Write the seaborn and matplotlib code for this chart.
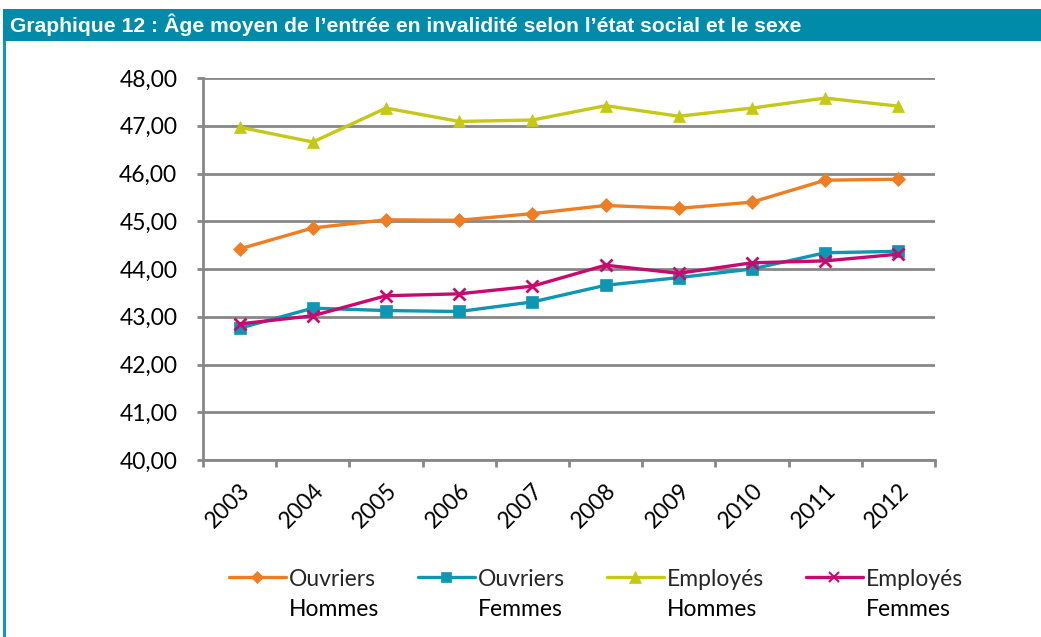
import matplotlib
matplotlib.use("Agg")
import matplotlib.pyplot as plt
import seaborn as sns
import pandas as pd
from matplotlib.patches import Rectangle
from matplotlib.lines import Line2D
from matplotlib.ticker import FuncFormatter, FixedLocator

years = ["2003", "2004", "2005", "2006", "2007", "2008", "2009", "2010", "2011", "2012"]
ouvriers_hommes = [44.42, 44.86, 45.03, 45.02, 45.16, 45.33, 45.27, 45.40, 45.86, 45.88]
ouvriers_femmes = [42.76, 43.18, 43.13, 43.11, 43.31, 43.66, 43.82, 44.00, 44.34, 44.37]
employes_hommes = [46.97, 46.66, 47.37, 47.09, 47.12, 47.42, 47.20, 47.37, 47.58, 47.41]
employes_femmes = [42.85, 43.02, 43.44, 43.48, 43.64, 44.08, 43.91, 44.13, 44.17, 44.31]
series_labels = ["Ouvriers\nHommes", "Ouvriers\nFemmes", "Employés\nHommes", "Employés\nFemmes"]
title = "Graphique 12 : Âge moyen de l\u2019entrée en invalidité selon l\u2019état social et le sexe"

sns.set_theme(style="white")
plt.rcParams['font.family'] = ['Lato', 'DejaVu Sans']

series = [ouvriers_hommes, ouvriers_femmes, employes_hommes, employes_femmes]
colors = ["#EE7D23", "#0F96B3", "#C6C818", "#C8096F"]
markers = ["D", "s", "^", "x"]
msizes = [7, 8, 9, 8]

rows = []
for lab, vals in zip(series_labels, series):
    for i, (y, v) in enumerate(zip(years, vals)):
        rows.append({"pos": i, "year": y, "serie": lab, "value": v})
df = pd.DataFrame(rows)

fig = plt.figure(figsize=(10.41, 6.37), dpi=100)
W, H = 1041, 637

# title bar and left border
fig.patches.append(Rectangle((3 / W, 1 - 41 / H), 1 - 3 / W, 32 / H, transform=fig.transFigure,
                             facecolor="#008CA8", edgecolor="none", zorder=0))
fig.patches.append(Rectangle((3 / W, 0), 2.5 / W, 1 - 41 / H, transform=fig.transFigure,
                             facecolor="#0E99B8", edgecolor="none", zorder=0))
fig.text(10 / W, 1 - 25 / H, title, color="white", fontsize=15.2, fontweight="bold",
         family=["Liberation Sans Narrow", "Liberation Sans", "DejaVu Sans"], va="center", ha="left")

ax = fig.add_axes([203 / W, 1 - 460 / H, (935 - 203) / W, (460 - 78) / H])

for lab, c, m, ms in zip(series_labels, colors, markers, msizes):
    sub = df[df["serie"] == lab]
    sns.lineplot(data=sub, x="pos", y="value", ax=ax, color=c, marker=m, markersize=ms,
                 markeredgecolor=c, markeredgewidth=2 if m == "x" else 0.5, linewidth=2.4,
                 legend=False, zorder=3)

ax.set_xlim(-0.5, len(years) - 0.5)
ax.set_ylim(40, 48)
ax.set_yticks([40, 41, 42, 43, 44, 45, 46, 47, 48])
ax.yaxis.set_major_formatter(FuncFormatter(lambda v, p: f"{v:.2f}".replace(".", ",")))
ax.yaxis.grid(True, color="#878787", linewidth=2)
ax.set_axisbelow(True)
ax.xaxis.set_major_locator(FixedLocator([i - 0.5 for i in range(len(years) + 1)]))
ax.xaxis.set_minor_locator(FixedLocator(list(range(len(years)))))
ax.set_xticklabels([""] * (len(years) + 1))
ax.set_xticklabels(years, minor=True, rotation=45, ha="right", rotation_mode="anchor")
ax.tick_params(axis="x", which="major", direction="out", length=5, width=2, color="#878787", bottom=True)
ax.tick_params(axis="x", which="minor", length=0, pad=14, labelsize=16.5, labelcolor="black")
ax.tick_params(axis="y", direction="out", length=4.5, width=2, color="#878787", left=True,
               labelsize=16.5, labelcolor="black", pad=14)
for s in ["top", "right"]:
    ax.spines[s].set_visible(False)
for s in ["left", "bottom"]:
    ax.spines[s].set_color("#878787")
    ax.spines[s].set_linewidth(2)
ax.set_xlabel("")
ax.set_ylabel("")

handles = [Line2D([0], [0], color=c, marker=m, markersize=ms - 1, linewidth=2.4,
                  markeredgecolor=c, markeredgewidth=1.5 if m == "x" else 0.5)
           for c, m, ms in zip(colors, markers, msizes)]
first_lines = [s.split("\n")[0] for s in series_labels]
second_lines = [s.split("\n")[1] for s in series_labels]
leg = fig.legend(handles, first_lines, loc="center", bbox_to_anchor=(596 / W, 1 - 579 / H),
                 ncol=4, frameon=False, fontsize=16.5, handlelength=2.5, handletextpad=0.15,
                 columnspacing=1.8, borderpad=0)
fig.canvas.draw()
r = fig.canvas.get_renderer()
for t, sec in zip(leg.get_texts(), second_lines):
    bb = t.get_window_extent(r)
    fig.text(bb.x0 / W, (bb.y0 - 30) / H, sec, fontsize=16.5, color="black",
             ha="left", va="bottom")

fig.savefig("out.png", dpi=100, facecolor="white")
